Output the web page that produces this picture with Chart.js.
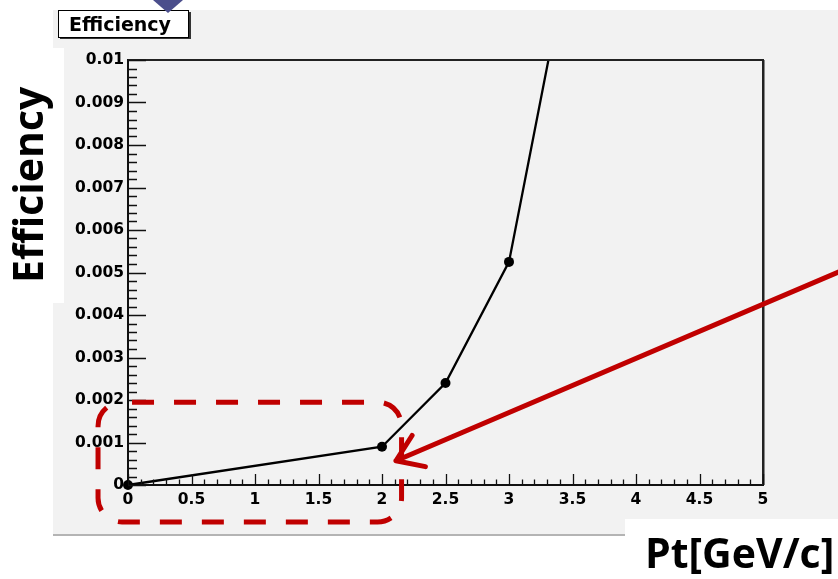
<!DOCTYPE html>
<html>
<head>
<meta charset="utf-8">
<script src="https://cdn.jsdelivr.net/npm/chart.js@4"></script>
<style>
  body { margin: 0; background: #ffffff; }
  canvas { display: block; }
</style>
</head>
<body>
<canvas id="effChart" width="838" height="579"></canvas>
<script>
// data
const ptValues = [0, 2, 2.5, 3, 3.5];
const effValues = [0, 0.0009, 0.0024, 0.00525, 0.0129];

const xTickLabels = ['0', '0.5', '1', '1.5', '2', '2.5', '3', '3.5', '4', '4.5', '5'];
const yTickLabels = ['0', '0.001', '0.002', '0.003', '0.004', '0.005', '0.006', '0.007', '0.008', '0.009', '0.01'];

// annotation anchors, in data units
const boxX = [-0.236, 2.154];
const boxY = [0.00195, -0.00087];
const arrowFrom = [5.6, 0.00502];
const arrowTo = [2.11, 0.00057];

const TICK_FONT = { family: 'DejaVu Sans', weight: 'bold', size: 15.5 };

// fond gris, cadres blancs, titres
const backdrop = {
    id: 'backdrop',
    beforeDraw(chart) {
        const ctx = chart.ctx;
        ctx.save();
        ctx.fillStyle = '#ffffff';
        ctx.fillRect(0, 0, chart.width, chart.height);
        ctx.fillStyle = '#f2f2f2';
        ctx.fillRect(53, 10, 785, 525);
        ctx.fillStyle = '#b4b4b4';
        ctx.fillRect(53, 534, 785, 2);
        ctx.fillStyle = '#ffffff';
        ctx.fillRect(0, 48, 64, 255);
        ctx.fillRect(625, 519, 213, 60);
        ctx.restore();
    },
    afterDraw(chart) {
        const ctx = chart.ctx;
        const { left, right, top, bottom } = chart.chartArea;
        const xs = chart.scales.x;
        const ys = chart.scales.y;
        ctx.save();

        // frame top / right
        ctx.strokeStyle = '#222222';
        ctx.lineWidth = 2;
        ctx.beginPath();
        ctx.moveTo(left, top);
        ctx.lineTo(right, top);
        ctx.lineTo(right, bottom);
        ctx.stroke();
        ctx.strokeStyle = '#888888';
        ctx.lineWidth = 1;
        ctx.beginPath();
        ctx.moveTo(right + 1.5, top);
        ctx.lineTo(right + 1.5, bottom);
        ctx.stroke();

        // tick marks inside the frame
        ctx.lineWidth = 1.3;
        ctx.strokeStyle = '#111111';
        ctx.beginPath();
        for (let i = 0; i <= 50; i++) {
            const px = Math.round(xs.getPixelForValue(i / 10)) + 0.5;
            const len = i % 5 === 0 ? 11 : 5.5;
            ctx.moveTo(px, bottom);
            ctx.lineTo(px, bottom - len);
            const py = Math.round(ys.getPixelForValue(i * 0.0002)) + 0.5;
            const ylen = i % 5 === 0 ? 18 : 9;
            ctx.moveTo(left, py);
            ctx.lineTo(left + ylen, py);
        }
        ctx.stroke();

        // title box
        ctx.fillStyle = '#333333';
        ctx.fillRect(60, 12, 131, 27);
        ctx.fillStyle = '#ffffff';
        ctx.fillRect(58, 10, 130, 27);
        ctx.strokeStyle = '#000000';
        ctx.lineWidth = 1;
        ctx.strokeRect(58.5, 10.5, 130, 27);
        ctx.fillStyle = '#000000';
        ctx.font = 'bold 19px "DejaVu Sans"';
        ctx.textBaseline = 'alphabetic';
        ctx.textAlign = 'left';
        ctx.fillText('Efficiency', 69, 31);

        // blue marker on top
        ctx.fillStyle = '#4b4e8c';
        ctx.beginPath();
        ctx.moveTo(153, 0);
        ctx.lineTo(183, 0);
        ctx.lineTo(168, 13);
        ctx.closePath();
        ctx.fill();

        // red dashed rounded box
        const bx0 = xs.getPixelForValue(boxX[0]);
        const bx1 = xs.getPixelForValue(boxX[1]);
        const by0 = ys.getPixelForValue(boxY[0]);
        const by1 = ys.getPixelForValue(boxY[1]);
        ctx.strokeStyle = '#c00000';
        ctx.lineWidth = 5;
        ctx.setLineDash([22, 20]);
        ctx.lineDashOffset = -10;
        ctx.beginPath();
        ctx.roundRect(bx0, by0, bx1 - bx0, by1 - by0, 24);
        ctx.stroke();
        ctx.setLineDash([]);

        // red arrow
        const ax0 = xs.getPixelForValue(arrowFrom[0]);
        const ay0 = ys.getPixelForValue(arrowFrom[1]);
        const ax1 = xs.getPixelForValue(arrowTo[0]);
        const ay1 = ys.getPixelForValue(arrowTo[1]);
        const ang = Math.atan2(ay0 - ay1, ax0 - ax1);
        ctx.lineCap = 'round';
        ctx.lineJoin = 'round';
        ctx.beginPath();
        ctx.moveTo(ax0, ay0);
        ctx.lineTo(ax1, ay1);
        ctx.moveTo(ax1 + 30 * Math.cos(ang - 0.6), ay1 + 30 * Math.sin(ang - 0.6));
        ctx.lineTo(ax1, ay1);
        ctx.lineTo(ax1 + 30 * Math.cos(ang + 0.6), ay1 + 30 * Math.sin(ang + 0.6));
        ctx.stroke();

        // big axis titles
        ctx.fillStyle = '#000000';
        ctx.font = 'bold 41px "Open Sans"';
        ctx.fillText('Pt[GeV/c]', 645, 568);
        ctx.translate(43, 283);
        ctx.rotate(-Math.PI / 2);
        ctx.fillText('Efficiency', 0, 0);

        ctx.restore();
    }
};

new Chart(document.getElementById('effChart').getContext('2d'), {
    type: 'line',
    data: {
        datasets: [{
            label: 'Efficiency',
            data: ptValues.map((x, i) => ({ x: x, y: effValues[i] })),
            borderColor: '#000000',
            backgroundColor: '#000000',
            borderWidth: 2.3,
            pointRadius: 5,
            pointBorderWidth: 0,
            tension: 0,
            clip: { left: 10, bottom: 10, top: 0, right: 0 }
        }]
    },
    options: {
        responsive: false,
        animation: false,
        devicePixelRatio: 1,
        layout: {
            padding: { top: 60, right: 75, bottom: 64, left: 0 }
        },
        plugins: {
            legend: { display: false },
            tooltip: { enabled: false },
            title: { display: false }
        },
        scales: {
            x: {
                type: 'linear',
                min: 0,
                max: 5,
                afterFit: (scale) => { scale.height = 30; },
                grid: { display: false, drawTicks: false },
                border: { display: true, color: '#111111', width: 2 },
                ticks: {
                    stepSize: 0.5,
                    autoSkip: false,
                    maxRotation: 0,
                    padding: 6,
                    color: '#000000',
                    font: TICK_FONT,
                    callback: (v) => xTickLabels[Math.round(v / 0.5)]
                }
            },
            y: {
                type: 'linear',
                min: 0,
                max: 0.01,
                afterFit: (scale) => { scale.width = 128; },
                grid: { display: false, drawTicks: false },
                border: { display: true, color: '#111111', width: 2 },
                ticks: {
                    stepSize: 0.001,
                    autoSkip: false,
                    padding: 4,
                    color: '#000000',
                    font: TICK_FONT,
                    callback: (v) => yTickLabels[Math.round(v / 0.001)]
                }
            }
        }
    },
    plugins: [backdrop]
});
</script>
</body>
</html>
